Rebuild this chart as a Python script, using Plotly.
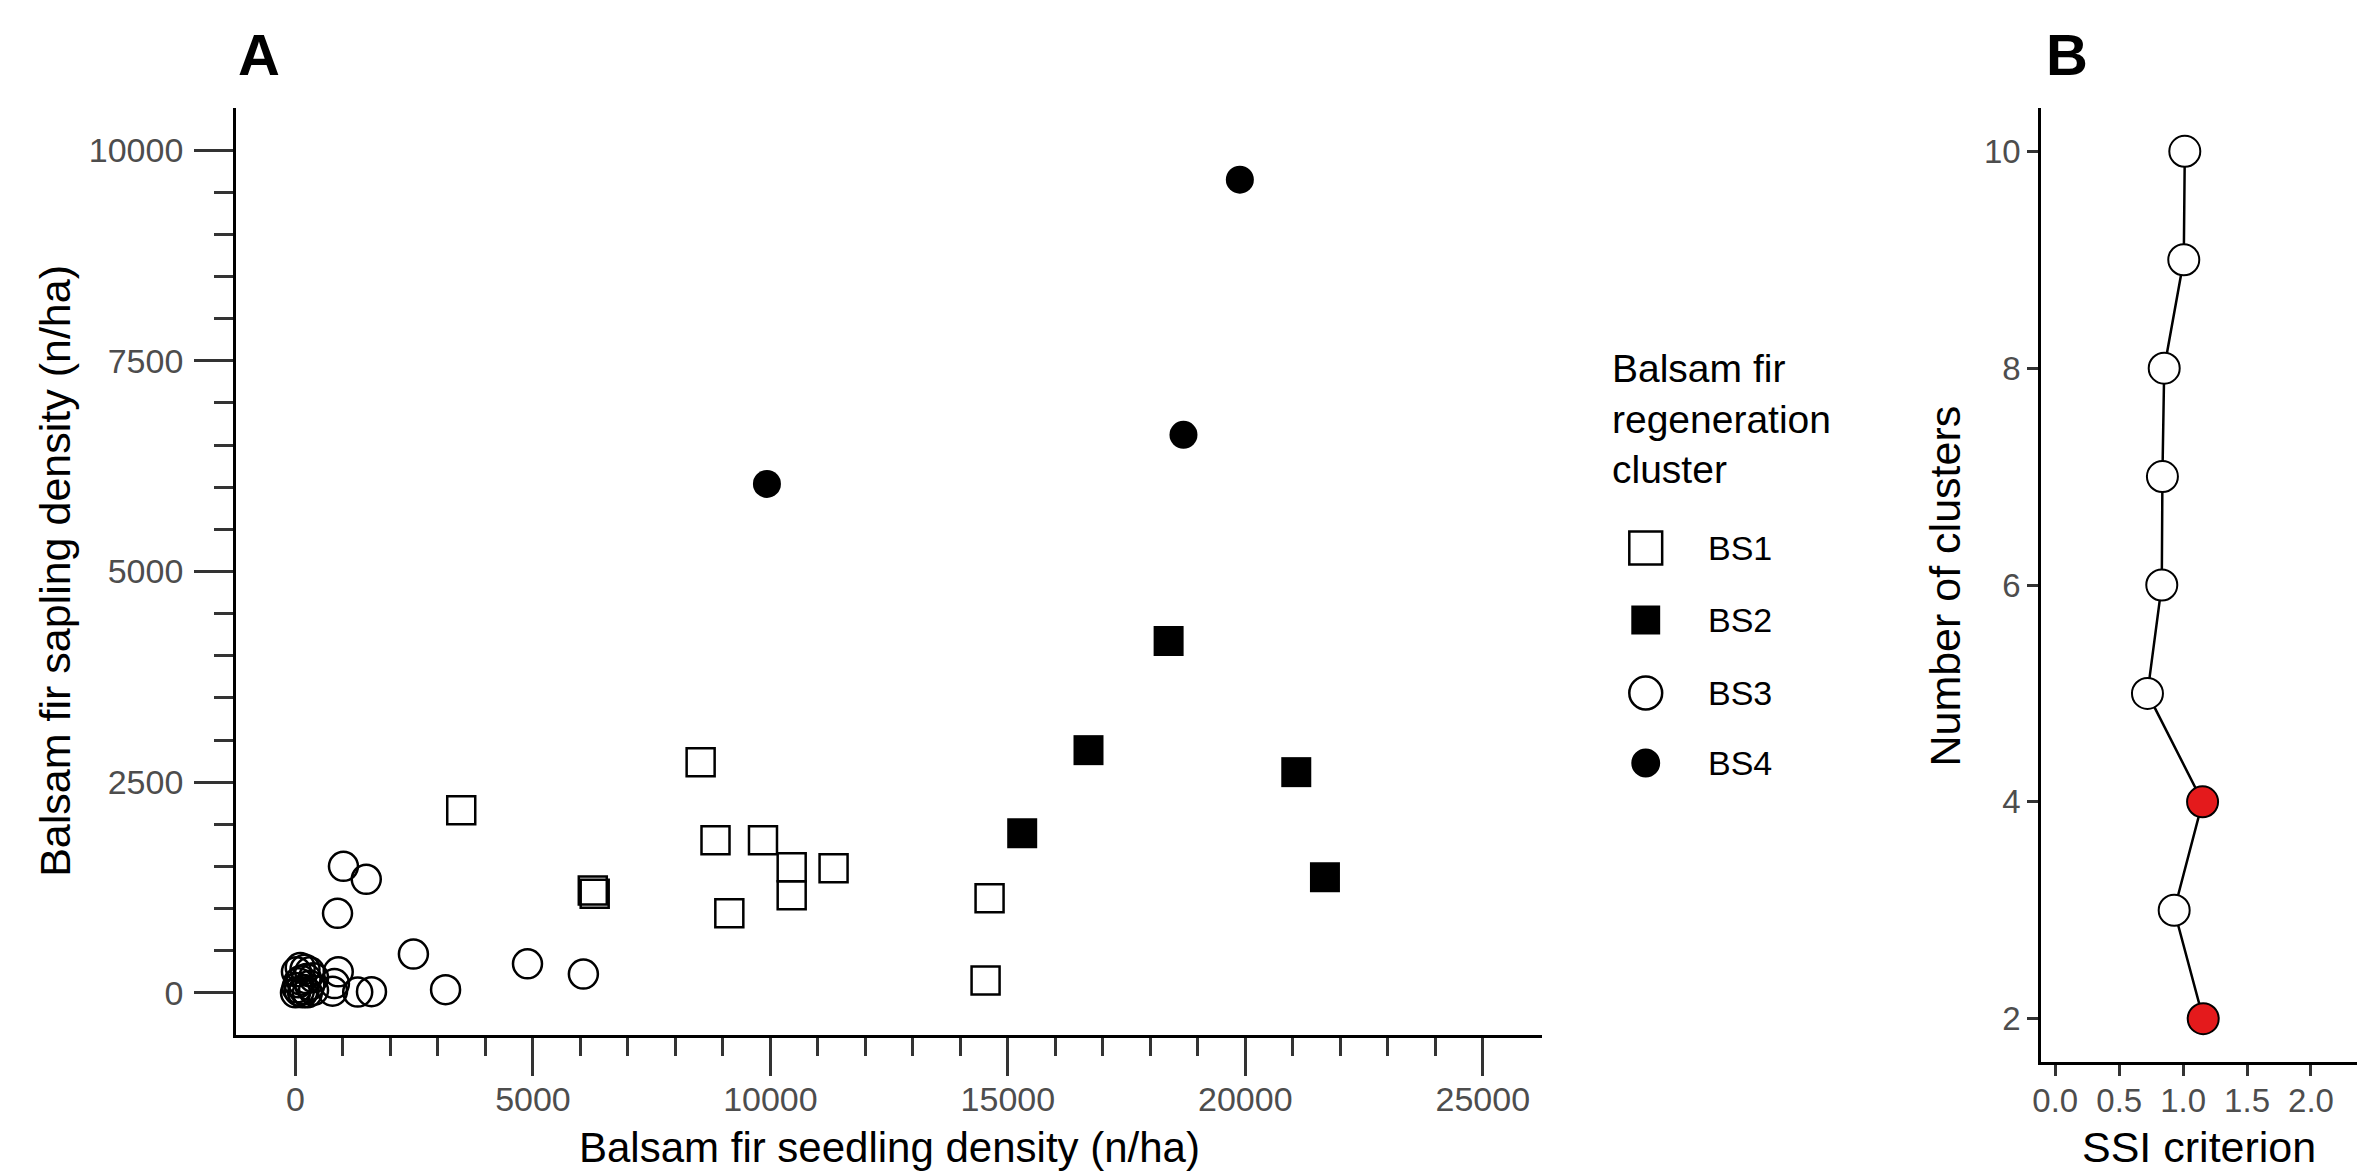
import plotly.graph_objects as go

W, H = 2360, 1172

# ---------------- data ----------------
# Panel A: balsam fir seedling density (x) vs sapling density (y), by cluster
bs1_x = [8531, 3490, 8844, 9844, 10448, 10448, 11330, 6260, 6300, 9135, 14615, 14531]
bs1_y = [2737, 2168, 1811, 1811, 1490, 1158, 1480, 1215, 1175, 944, 1122, 148]

bs2_x = [18385, 16698, 15302, 21073, 21677]
bs2_y = [4175, 2880, 1894, 2619, 1372]

bs3_x = [1010, 1490, 885, 2483, 4885, 6062, 3160, 1600, 1310, 900, 820, 780,
         0, 30, 80, 120, 180, 250, 300, 380, 20, 100, 200, 300, 380, 60, 230, 150]
bs3_y = [1502, 1348, 944, 460, 344, 223, 38, 14, 10, 250, 110, 20,
         0, 60, 20, 150, 40, 0, 90, 30, 250, 300, 280, 250, 180, 120, 170, 0]

bs4_x = [19885, 18698, 9927]
bs4_y = [9650, 6622, 6039]

clusters = ["BS1", "BS2", "BS3", "BS4"]
x_ticks_a = [0, 5000, 10000, 15000, 20000, 25000]
x_labels_a = ["0", "5000", "10000", "15000", "20000", "25000"]
y_ticks_a = [0, 2500, 5000, 7500, 10000]
y_labels_a = ["0", "2500", "5000", "7500", "10000"]

# Panel B: SSI criterion by number of clusters
n_clusters = [2, 3, 4, 5, 6, 7, 8, 9, 10]
ssi = [1.157, 0.930, 1.152, 0.721, 0.833, 0.838, 0.852, 1.005, 1.013]
best_k = [2, 4]
x_ticks_b = [0.0, 0.5, 1.0, 1.5, 2.0]
x_labels_b = ["0.0", "0.5", "1.0", "1.5", "2.0"]
y_ticks_b = [2, 4, 6, 8, 10]

# ---------------- styling ----------------
FONT = "Liberation Sans, Arial, sans-serif"
TICK_GREY = "#4d4d4d"
TICK_COL = "#333333"

def px(xp):
    return xp / W

def py(yp):
    return 1 - yp / H

marker_styles = {
    "BS1": dict(symbol="square-open", size=28, color="black", line=dict(width=2.5, color="black")),
    "BS2": dict(symbol="square", size=30, color="black", line=dict(width=0)),
    "BS3": dict(symbol="circle-open", size=29, color="black", line=dict(width=2.5, color="black")),
    "BS4": dict(symbol="circle", size=28, color="black", line=dict(width=0)),
}
series = {
    "BS1": (bs1_x, bs1_y),
    "BS2": (bs2_x, bs2_y),
    "BS3": (bs3_x, bs3_y),
    "BS4": (bs4_x, bs4_y),
}

fig = go.Figure()

for name in clusters:
    xs, ys = series[name]
    fig.add_trace(go.Scatter(
        x=xs, y=ys, mode="markers", name=name,
        marker=marker_styles[name], xaxis="x", yaxis="y", showlegend=False,
    ))

fill_b = ["#e41a1c" if k in best_k else "white" for k in n_clusters]
fig.add_trace(go.Scatter(
    x=ssi, y=n_clusters, mode="lines+markers", xaxis="x2", yaxis="y2",
    line=dict(color="black", width=2.5),
    marker=dict(symbol="circle", size=31, color=fill_b, line=dict(color="black", width=2)),
    showlegend=False,
))

common_axis = dict(
    showgrid=False, zeroline=False, showline=True, linecolor="black", linewidth=3,
    ticks="outside", tickcolor=TICK_COL, tickwidth=3,
)

minor_x = [v for v in range(0, 25001, 1000) if v % 5000]
minor_y = [v for v in range(0, 10001, 500) if v % 2500]

fig.update_layout(
    width=W, height=H,
    margin=dict(l=0, r=0, t=0, b=0),
    paper_bgcolor="white", plot_bgcolor="white",
    font=dict(family=FONT, color="black"),
    xaxis=dict(
        **common_axis, domain=[px(228), px(1539)], range=[-1250, 26250],
        tickvals=x_ticks_a, ticktext=x_labels_a, ticklen=38, ticklabelstandoff=-6,
        tickfont=dict(size=34, color=TICK_GREY, family=FONT),
        minor=dict(tickvals=minor_x, ticks="outside", ticklen=18, tickwidth=3,
                   tickcolor=TICK_COL, showgrid=False),
        anchor="y",
    ),
    yaxis=dict(
        **common_axis, domain=[py(1035), py(108)], range=[-500, 10500],
        tickvals=y_ticks_a, ticktext=y_labels_a, ticklen=39, ticklabelstandoff=4,
        tickfont=dict(size=34, color=TICK_GREY, family=FONT),
        minor=dict(tickvals=minor_y, ticks="outside", ticklen=19, tickwidth=3,
                   tickcolor=TICK_COL, showgrid=False),
        anchor="x",
    ),
    xaxis2=dict(
        **common_axis, domain=[px(2040), px(2357)], range=[-0.11, 2.36],
        tickvals=x_ticks_b, ticktext=x_labels_b, ticklen=11, ticklabelstandoff=-4,
        tickfont=dict(size=33, color=TICK_GREY, family=FONT),
        anchor="y2",
    ),
    yaxis2=dict(
        **common_axis, domain=[py(1062), py(108)], range=[1.6, 10.4],
        tickvals=y_ticks_b, ticklen=11,
        tickfont=dict(size=33, color=TICK_GREY, family=FONT),
        anchor="x2",
    ),
)

annotations = [
    dict(text="<b>A</b>", x=px(228), y=py(55), xanchor="left", yanchor="middle",
         font=dict(size=58, color="black", family=FONT)),
    dict(text="<b>B</b>", x=px(2043), y=py(55), xanchor="left", yanchor="middle",
         font=dict(size=58, color="black", family=FONT)),
    dict(text="Balsam fir seedling density (n/ha)", x=px(884), y=py(1147),
         xanchor="center", yanchor="middle", font=dict(size=42, color="black", family=FONT)),
    dict(text="Balsam fir sapling density (n/ha)", x=px(46), y=py(571), textangle=-90,
         xanchor="center", yanchor="middle", font=dict(size=43, color="black", family=FONT)),
    dict(text="SSI criterion", x=px(2198), y=py(1147),
         xanchor="center", yanchor="middle", font=dict(size=43, color="black", family=FONT)),
    dict(text="Number of clusters", x=px(1943), y=py(586), textangle=-90,
         xanchor="center", yanchor="middle", font=dict(size=43, color="black", family=FONT)),
    dict(text="Balsam fir<br>regeneration<br>cluster", x=px(1607), y=py(419),
         xanchor="left", yanchor="middle", align="left",
         font=dict(size=39, color="black", family=FONT)),
]

# legend drawn as layout shapes + text so the keys keep the plot's marker size
leg_y = [548, 620, 693, 763]
leg_sym_x = 1643
leg_text_x = 1703
shapes = []
for name, yc in zip(clusters, leg_y):
    st = marker_styles[name]
    filled = not st["symbol"].endswith("open")
    half = 14.5 if filled else 16.5
    kind = "rect" if st["symbol"].startswith("square") else "circle"
    shapes.append(dict(
        type=kind, xref="paper", yref="paper",
        x0=px(leg_sym_x - half), x1=px(leg_sym_x + half),
        y0=py(yc + half), y1=py(yc - half),
        fillcolor="black" if filled else "rgba(0,0,0,0)",
        line=dict(color="black", width=0 if filled else 2.5),
    ))
    annotations.append(dict(
        text=name, x=px(leg_text_x), y=py(yc), xanchor="left", yanchor="middle",
        font=dict(size=34, color="black", family=FONT),
    ))

for a in annotations:
    a.update(xref="paper", yref="paper", showarrow=False)

fig.update_layout(annotations=annotations, shapes=shapes)

fig.write_html(
    "out.html",
    config={"displayModeBar": False},
    post_script="document.body.style.margin='0';document.body.style.overflow='hidden';",
)
